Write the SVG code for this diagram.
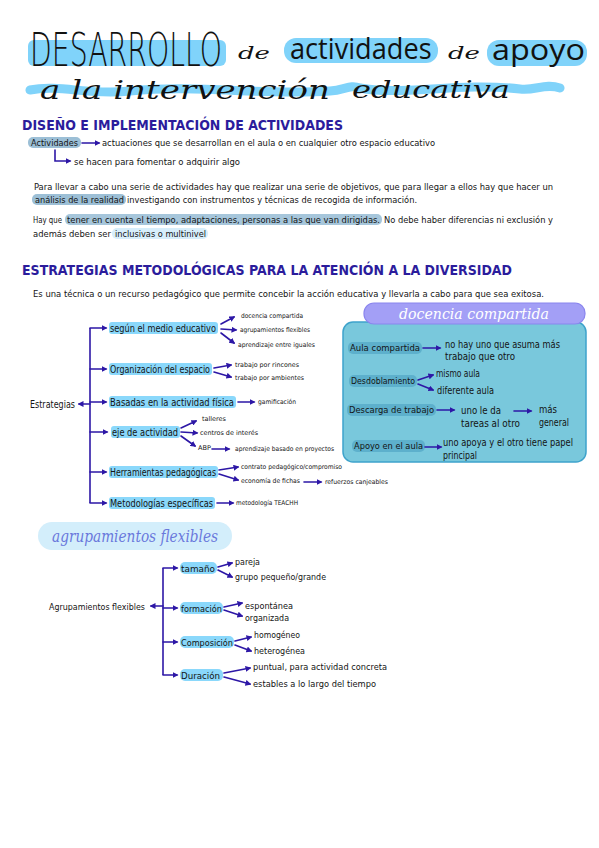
<svg xmlns="http://www.w3.org/2000/svg" width="599" height="848" viewBox="0 0 599 848">
<defs>
<style>
.t{font-family:"DejaVu Sans",sans-serif;font-stretch:condensed;fill:#141414}
.h{font-family:"DejaVu Sans",sans-serif;font-weight:bold;fill:#2b1c9c}
.s{font-size:6.5px}
.m{font-size:9px}
.n{font-size:10px}
.c{fill:none;stroke:#2d17a6;stroke-width:1.6;stroke-linecap:round;marker-end:url(#ah)}
.l{fill:none;stroke:#2d17a6;stroke-width:1.6}
.hl{fill:#8ad8fb}
.hg{fill:#9cbfd6}
.hd{fill:#5db0cc}
</style>
<marker id="ah" markerWidth="6" markerHeight="6" refX="4.5" refY="3" orient="auto" markerUnits="userSpaceOnUse">
<path d="M0,0 L6,3 L0,6 Z" fill="#2d17a6"/>
</marker>
</defs>
<rect width="599" height="848" fill="#ffffff"/>

<g id="title">
<rect x="28" y="40" width="198" height="26" rx="6" fill="#80d3fa"/>
<rect x="284" y="38" width="154" height="25" rx="12" fill="#80d3fa"/>
<rect x="487" y="40" width="100" height="26" rx="12" fill="#80d3fa"/>
<path d="M30,90 C60,84 90,96 130,91 C200,84 260,96 330,91 C345,90 350,84 360,88 C400,96 460,82 520,89 C535,91 545,83 560,88" fill="none" stroke="#80d3fa" stroke-width="9" stroke-linecap="round"/>
<text transform="translate(30,66) scale(0.6,1)" x="0" y="0" font-family="DejaVu Sans, sans-serif" font-weight="200" font-size="47" fill="#111" textLength="320" lengthAdjust="spacingAndGlyphs">DESARROLLO</text>
<text x="238" y="59" font-family="DejaVu Serif, serif" font-style="italic" font-size="17" fill="#111" textLength="32" lengthAdjust="spacingAndGlyphs">de</text>
<text transform="translate(290,59) scale(0.8,1)" x="0" y="0" font-family="Open Sans, sans-serif" font-size="30" fill="#111" textLength="177" lengthAdjust="spacingAndGlyphs">actividades</text>
<text x="448" y="59" font-family="DejaVu Serif, serif" font-style="italic" font-size="17" fill="#111" textLength="32" lengthAdjust="spacingAndGlyphs">de</text>
<text x="492" y="60" font-family="Open Sans, sans-serif" font-size="30" fill="#111" textLength="93" lengthAdjust="spacingAndGlyphs">apoyo</text>
<text x="40" y="99" font-family="DejaVu Serif, serif" font-style="italic" font-size="26" fill="#111" textLength="290" lengthAdjust="spacingAndGlyphs">a la intervención</text>
<text x="352" y="98" font-family="DejaVu Serif, serif" font-style="italic" font-size="24" fill="#111" textLength="158" lengthAdjust="spacingAndGlyphs">educativa</text>
</g>

<g id="section1">
<text x="22" y="130" class="h" font-size="14" textLength="321" lengthAdjust="spacingAndGlyphs">DISEÑO E IMPLEMENTACIÓN DE ACTIVIDADES</text>
<rect x="28" y="137" width="53" height="11" rx="5" class="hg"/>
<text x="31" y="146" class="t m" textLength="47" lengthAdjust="spacingAndGlyphs">Actividades</text>
<text x="102" y="146" class="t m" textLength="333" lengthAdjust="spacingAndGlyphs">actuaciones que se desarrollan en el aula o en cualquier otro espacio educativo</text>
<text x="74" y="165" class="t m" textLength="166" lengthAdjust="spacingAndGlyphs">se hacen para fomentar o adquirir algo</text>
<text x="34" y="190" class="t m" textLength="519" lengthAdjust="spacingAndGlyphs">Para llevar a cabo una serie de actividades hay que realizar una serie de objetivos, que para llegar a ellos hay que hacer un</text>
<rect x="32" y="194" width="94" height="11" rx="5" class="hg"/>
<text x="35" y="203" class="t m" textLength="89" lengthAdjust="spacingAndGlyphs">análisis de la realidad</text>
<text x="127" y="203" class="t m" textLength="290" lengthAdjust="spacingAndGlyphs">investigando con instrumentos y técnicas de recogida de información.</text>
<rect x="65" y="214" width="317" height="11" rx="5" fill="#a6c6db"/>
<text x="33" y="223" class="t m" textLength="29" lengthAdjust="spacingAndGlyphs">Hay que</text>
<text x="67" y="223" class="t m" textLength="313" lengthAdjust="spacingAndGlyphs">tener en cuenta el tiempo, adaptaciones, personas a las que van dirigidas.</text>
<text x="384" y="223" class="t m" textLength="169" lengthAdjust="spacingAndGlyphs">No debe haber diferencias ni exclusión y</text>
<rect x="112" y="228" width="96" height="11" rx="5" fill="#d7eefb"/>
<text x="33" y="237" class="t m" textLength="78" lengthAdjust="spacingAndGlyphs">además deben ser</text>
<text x="115" y="237" class="t m" textLength="91" lengthAdjust="spacingAndGlyphs">inclusivas o multinivel</text>
</g>

<g id="section2">
<text x="22" y="275" class="h" font-size="14" textLength="490" lengthAdjust="spacingAndGlyphs">ESTRATEGIAS METODOLÓGICAS PARA LA ATENCIÓN A LA DIVERSIDAD</text>
<text x="33" y="297" class="t m" textLength="511" lengthAdjust="spacingAndGlyphs">Es una técnica o un recurso pedagógico que permite concebir la acción educativa y llevarla a cabo para que sea exitosa.</text>
</g>

<g id="node-estrategias"><text x="30" y="408" class="t n" textLength="45" lengthAdjust="spacingAndGlyphs">Estrategias</text></g>
<g id="node-medio">
<rect x="109" y="322" width="109" height="12" rx="3" class="hl"/>
<text x="110" y="332" class="t n" textLength="106" lengthAdjust="spacingAndGlyphs">según el medio educativo</text>
<text x="241" y="318" class="t s" textLength="62" lengthAdjust="spacingAndGlyphs">docencia compartida</text>
<text x="240" y="332" class="t s" textLength="70" lengthAdjust="spacingAndGlyphs">agrupamientos flexibles</text>
<text x="238" y="347" class="t s" textLength="77" lengthAdjust="spacingAndGlyphs">aprendizaje entre iguales</text>
</g>
<g id="node-espacio">
<rect x="109" y="363" width="103" height="12" rx="3" class="hl"/>
<text x="110" y="373" class="t n" textLength="100" lengthAdjust="spacingAndGlyphs">Organización del espacio</text>
<text x="235" y="367" class="t s" textLength="64" lengthAdjust="spacingAndGlyphs">trabajo por rincones</text>
<text x="235" y="380" class="t s" textLength="69" lengthAdjust="spacingAndGlyphs">trabajo por ambientes</text>
</g>
<g id="node-fisica">
<rect x="109" y="396" width="127" height="12" rx="3" class="hl"/>
<text x="110" y="406" class="t n" textLength="124" lengthAdjust="spacingAndGlyphs">Basadas en la actividad física</text>
<text x="258" y="404" class="t s" textLength="38" lengthAdjust="spacingAndGlyphs">gamificación</text>
</g>
<g id="node-eje">
<rect x="111" y="426" width="69" height="12" rx="3" class="hl"/>
<text x="112" y="436" class="t n" textLength="66" lengthAdjust="spacingAndGlyphs">eje de actividad</text>
<text x="202" y="421" class="t s" textLength="24" lengthAdjust="spacingAndGlyphs">talleres</text>
<text x="200" y="435" class="t s" textLength="58" lengthAdjust="spacingAndGlyphs">centros de interés</text>
<text x="198" y="450" class="t s" textLength="13" lengthAdjust="spacingAndGlyphs">ABP</text>
<text x="235" y="451" class="t s" textLength="99" lengthAdjust="spacingAndGlyphs">aprendizaje basado en proyectos</text>
</g>
<g id="node-herramientas">
<rect x="109" y="466" width="109" height="12" rx="3" class="hl"/>
<text x="110" y="476" class="t n" textLength="106" lengthAdjust="spacingAndGlyphs">Herramientas pedagógicas</text>
<text x="241" y="469" class="t s" textLength="101" lengthAdjust="spacingAndGlyphs">contrato pedagógico/compromiso</text>
<text x="241" y="483" class="t s" textLength="59" lengthAdjust="spacingAndGlyphs">economía de fichas</text>
<text x="325" y="484" class="t s" textLength="63" lengthAdjust="spacingAndGlyphs">refuerzos canjeables</text>
</g>
<g id="node-metodologias">
<rect x="109" y="497" width="106" height="12" rx="3" class="hl"/>
<text x="110" y="507" class="t n" textLength="103" lengthAdjust="spacingAndGlyphs">Metodologías específicas</text>
<text x="236" y="505" class="t s" textLength="62" lengthAdjust="spacingAndGlyphs">metodología TEACHH</text>
</g>

<g id="docencia-compartida">
<rect x="343" y="322" width="243" height="140" rx="10" fill="#79c8dc" stroke="#3ea3cb" stroke-width="1.5"/>
<rect x="364" y="303" width="221" height="21" rx="10" fill="#a39ff6" stroke="#8a85ee" stroke-width="1.2"/>
<text x="474" y="319" text-anchor="middle" font-family="DejaVu Serif, serif" font-style="italic" font-size="15" fill="#ffffff" textLength="150" lengthAdjust="spacingAndGlyphs">docencia compartida</text>
<rect x="348" y="342" width="74" height="12" rx="5" class="hd"/>
<text x="350" y="351" class="t m" textLength="70" lengthAdjust="spacingAndGlyphs">Aula compartida</text>
<text x="445" y="348" class="t n" textLength="115" lengthAdjust="spacingAndGlyphs">no hay uno que asuma más</text>
<text x="445" y="360" class="t n" textLength="70" lengthAdjust="spacingAndGlyphs">trabajo que otro</text>
<rect x="349" y="375" width="68" height="12" rx="5" class="hd"/>
<text x="351" y="384" class="t m" textLength="64" lengthAdjust="spacingAndGlyphs">Desdoblamiento</text>
<text x="436" y="377" class="t n" textLength="44" lengthAdjust="spacingAndGlyphs">mismo aula</text>
<text x="437" y="394" class="t n" textLength="57" lengthAdjust="spacingAndGlyphs">diferente aula</text>
<rect x="347" y="404" width="89" height="12" rx="5" class="hd"/>
<text x="349" y="413" class="t m" textLength="85" lengthAdjust="spacingAndGlyphs">Descarga de trabajo</text>
<text x="461" y="414" class="t n" textLength="40" lengthAdjust="spacingAndGlyphs">uno le da</text>
<text x="461" y="427" class="t n" textLength="59" lengthAdjust="spacingAndGlyphs">tareas al otro</text>
<text x="539" y="413" class="t n" textLength="18" lengthAdjust="spacingAndGlyphs">más</text>
<text x="539" y="426" class="t n" textLength="30" lengthAdjust="spacingAndGlyphs">general</text>
<rect x="352" y="440" width="73" height="12" rx="5" class="hd"/>
<text x="354" y="449" class="t m" textLength="69" lengthAdjust="spacingAndGlyphs">Apoyo en el aula</text>
<text x="443" y="446" class="t n" textLength="130" lengthAdjust="spacingAndGlyphs">uno apoya y el otro tiene papel</text>
<text x="443" y="459" class="t n" textLength="34" lengthAdjust="spacingAndGlyphs">principal</text>
</g>

<g id="agrupamientos-flexibles">
<rect x="38" y="522" width="194" height="28" rx="14" fill="#d3eefb"/>
<text x="135" y="542" text-anchor="middle" font-family="DejaVu Serif, serif" font-style="italic" font-size="17" fill="#6a78dc" textLength="166" lengthAdjust="spacingAndGlyphs">agrupamientos flexibles</text>
<text x="49" y="610" class="t m" textLength="96" lengthAdjust="spacingAndGlyphs">Agrupamientos flexibles</text>
</g>
<g id="node-tamano">
<rect x="180" y="562" width="37" height="12" rx="5" class="hl"/>
<text x="181" y="572" class="t m" textLength="34" lengthAdjust="spacingAndGlyphs">tamaño</text>
<text x="235" y="565" class="t m" textLength="25" lengthAdjust="spacingAndGlyphs">pareja</text>
<text x="235" y="580" class="t m" textLength="91" lengthAdjust="spacingAndGlyphs">grupo pequeño/grande</text>
</g>
<g id="node-formacion">
<rect x="180" y="602" width="43" height="12" rx="5" class="hl"/>
<text x="181" y="612" class="t m" textLength="41" lengthAdjust="spacingAndGlyphs">formación</text>
<text x="245" y="609" class="t m" textLength="48" lengthAdjust="spacingAndGlyphs">espontánea</text>
<text x="245" y="621" class="t m" textLength="44" lengthAdjust="spacingAndGlyphs">organizada</text>
</g>
<g id="node-composicion">
<rect x="180" y="636" width="54" height="12" rx="5" class="hl"/>
<text x="181" y="646" class="t m" textLength="52" lengthAdjust="spacingAndGlyphs">Composición</text>
<text x="254" y="638" class="t m" textLength="46" lengthAdjust="spacingAndGlyphs">homogéneo</text>
<text x="254" y="654" class="t m" textLength="51" lengthAdjust="spacingAndGlyphs">heterogénea</text>
</g>
<g id="node-duracion">
<rect x="180" y="669" width="43" height="12" rx="5" class="hl"/>
<text x="181" y="679" class="t m" textLength="39" lengthAdjust="spacingAndGlyphs">Duración</text>
<text x="253" y="670" class="t m" textLength="134" lengthAdjust="spacingAndGlyphs">puntual, para actividad concreta</text>
<text x="253" y="687" class="t m" textLength="123" lengthAdjust="spacingAndGlyphs">estables a lo largo del tiempo</text>
</g>

<g id="connectors">
<path class="c" d="M82,143 H99"/>
<path class="c" d="M55,150 V161 H70"/>
<path class="l" d="M90,328 V503"/>
<path class="c" d="M90,404 H79"/>
<path class="c" d="M90,328 H106"/>
<path class="c" d="M90,369 H106"/>
<path class="c" d="M90,402 H106"/>
<path class="c" d="M90,432 H107"/>
<path class="c" d="M90,472 H106"/>
<path class="c" d="M90,503 H106"/>
<path class="c" d="M221,324 L234,317"/>
<path class="c" d="M221,329 L236,330"/>
<path class="c" d="M221,333 L234,343"/>
<path class="c" d="M214,368 L231,365"/>
<path class="c" d="M214,372 L231,377"/>
<path class="c" d="M238,402 H254"/>
<path class="c" d="M181,428 L196,421"/>
<path class="c" d="M181,432 L197,433"/>
<path class="c" d="M181,436 L195,446"/>
<path class="c" d="M212,449 H229"/>
<path class="c" d="M219,470 L238,467"/>
<path class="c" d="M219,474 L238,480"/>
<path class="c" d="M304,482 H321"/>
<path class="c" d="M217,503 H233"/>
<path class="c" d="M423,348 H440"/>
<path class="c" d="M418,380 L433,375"/>
<path class="c" d="M418,384 L433,390"/>
<path class="c" d="M437,410 H454"/>
<path class="c" d="M514,411 H531"/>
<path class="c" d="M425,447 H441"/>
<path class="l" d="M163,568 V675"/>
<path class="c" d="M163,606 H151"/>
<path class="c" d="M163,568 H177"/>
<path class="c" d="M163,608 H177"/>
<path class="c" d="M163,642 H177"/>
<path class="c" d="M163,675 H177"/>
<path class="c" d="M218,567 L232,563"/>
<path class="c" d="M218,570 L232,577"/>
<path class="c" d="M224,607 L242,603"/>
<path class="c" d="M224,610 L242,616"/>
<path class="c" d="M235,641 L251,637"/>
<path class="c" d="M235,645 L251,651"/>
<path class="c" d="M224,673 L250,668"/>
<path class="c" d="M224,677 L250,684"/>
</g>
</svg>
